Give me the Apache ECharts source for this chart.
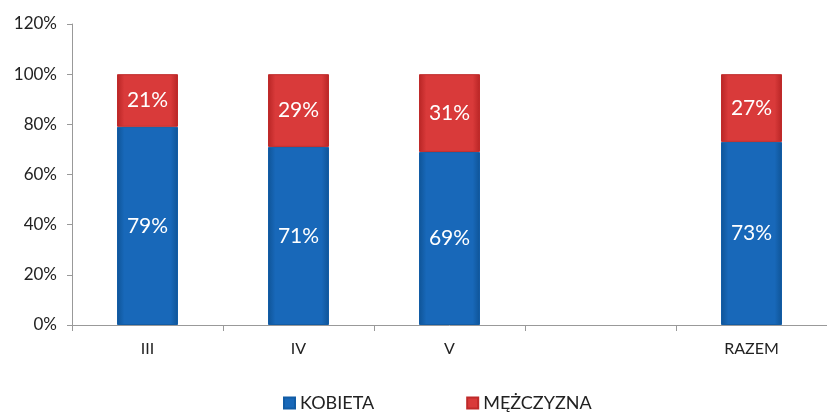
<!DOCTYPE html>
<html>
<head>
<meta charset="utf-8">
<script src="https://cdn.jsdelivr.net/npm/echarts@6/dist/echarts.min.js"></script>
<style>
html,body{margin:0;padding:0;background:#fff;}
#chart{width:827px;height:412px;}
</style>
</head>
<body>
<div id="chart"></div>
<script>
const categories = ['III', 'IV', 'V', '', 'RAZEM'];
const kobieta = [79, 71, 69, null, 73];
const mezczyzna = [21, 29, 31, null, 27];
const seriesNames = ['KOBIETA', 'MĘŻCZYZNA'];

const chart = echarts.init(document.getElementById('chart'));
const fontFamily = 'Lato, "Open Sans", sans-serif';

function grad(edge, mid) {
  return new echarts.graphic.LinearGradient(0, 0, 1, 0, [
    {offset: 0, color: edge},
    {offset: 0.12, color: mid},
    {offset: 0.88, color: mid},
    {offset: 1, color: edge}
  ]);
}

const labelStyle = {
  show: true,
  position: 'inside',
  color: '#fff',
  fontSize: 21,
  fontFamily: fontFamily,
  formatter: p => p.value == null ? '' : p.value + '%'
};

chart.setOption({
  animation: false,
  backgroundColor: '#fff',
  grid: {left: 72, top: 24, width: 762, height: 301, containLabel: false},
  legend: {
    bottom: -5,
    left: 278,
    itemGap: 92,
    itemWidth: 11,
    itemHeight: 11,
    icon: 'rect',
    textStyle: {fontSize: 18, color: '#222', fontFamily: fontFamily},
    data: seriesNames
  },
  xAxis: {
    type: 'category',
    data: categories,
    axisLine: {lineStyle: {color: '#999'}},
    axisTick: {show: true, length: 6, lineStyle: {color: '#999'}},
    axisLabel: {color: '#222', fontSize: 16, margin: 16, fontFamily: fontFamily}
  },
  yAxis: {
    type: 'value',
    min: 0,
    max: 120,
    interval: 20,
    axisLine: {show: true, lineStyle: {color: '#999'}},
    axisTick: {show: true, length: 5, lineStyle: {color: '#999'}},
    splitLine: {show: false},
    axisLabel: {color: '#222', fontSize: 17, margin: 15, fontFamily: fontFamily, formatter: '{value}%'}
  },
  series: [
    {
      name: seriesNames[0],
      type: 'bar',
      stack: 'total',
      barWidth: 61,
      data: kobieta,
      itemStyle: {color: grad('#0f5497', '#1868b9'), borderColor: '#125ca5', borderWidth: 1},
      label: labelStyle
    },
    {
      name: seriesNames[1],
      type: 'bar',
      stack: 'total',
      barWidth: 61,
      data: mezczyzna,
      itemStyle: {color: grad('#b82525', '#d93a3a'), borderColor: '#bf2a2a', borderWidth: 1},
      label: labelStyle
    }
  ]
});
</script>
</body>
</html>
